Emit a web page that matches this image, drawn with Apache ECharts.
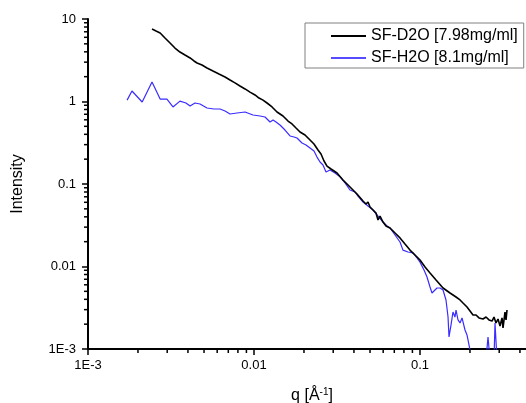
<!DOCTYPE html>
<html>
<head>
<meta charset="utf-8">
<script src="https://cdn.jsdelivr.net/npm/echarts@6/dist/echarts.min.js"></script>
<style>
html,body{margin:0;padding:0;background:#fff;}
#chart{width:526px;height:403px;}
</style>
</head>
<body>
<div id="chart"></div>
<script>
// ---- data ----
const seriesNames = ['SF-D2O [7.98mg/ml]', 'SF-H2O [8.1mg/ml]'];

const d2oQ = [0.00243,0.00257,0.00272,0.00291,0.00312,0.00334,0.00358,0.00384,0.00412,0.00435,0.00454,0.00486,0.00521,0.00566,0.00615,0.00669,0.00717,0.00768,0.00823,0.00883,0.00946,0.01014,0.01072,0.01133,0.01198,0.01284,0.01376,0.01495,0.01603,0.01694,0.01791,0.01893,0.02029,0.02175,0.02298,0.0243,0.02533,0.02641,0.02753,0.0291,0.03162,0.03437,0.03787,0.04173,0.04535,0.04728,0.04861,0.04998,0.05211,0.05432,0.05585,0.05741,0.05986,0.06239,0.06596,0.0707,0.07577,0.0812,0.08704,0.09331,0.1,0.1072,0.1149,0.1249,0.1376,0.1516,0.1648,0.1742,0.1816,0.1919,0.2001,0.2086,0.2175,0.2267,0.2396,0.2498,0.2604,0.2715,0.2791,0.287,0.2951,0.3033,0.3119,0.3162,0.3251,0.3297,0.3343];
const d2oI = [7.56,7.15,6.77,5.88,5.12,4.45,3.98,3.66,3.37,3.10,2.93,2.77,2.55,2.34,2.15,1.98,1.82,1.68,1.54,1.42,1.30,1.20,1.10,1.04,0.959,0.858,0.746,0.667,0.58,0.534,0.477,0.427,0.393,0.341,0.305,0.258,0.231,0.19,0.165,0.152,0.136,0.112,0.092,0.0756,0.0622,0.0572,0.0605,0.0526,0.0484,0.0445,0.0366,0.0409,0.0346,0.031,0.0293,0.0255,0.0222,0.0187,0.0158,0.0138,0.012,0.00986,0.00834,0.00686,0.00549,0.00477,0.00427,0.00393,0.00361,0.00323,0.00289,0.00258,0.00258,0.00238,0.00231,0.00244,0.00225,0.00218,0.00244,0.00207,0.00231,0.0019,0.00238,0.0018,0.00281,0.00225,0.00297];

const h2oQ = [0.00172,0.00184,0.00212,0.00243,0.00272,0.00299,0.00325,0.00358,0.00389,0.00412,0.00441,0.00473,0.00521,0.00574,0.00624,0.00669,0.00717,0.0079,0.00883,0.00986,0.01087,0.01165,0.01249,0.01302,0.01357,0.01434,0.01537,0.01648,0.01742,0.01816,0.01946,0.02057,0.02175,0.02298,0.02396,0.02498,0.02604,0.02715,0.02791,0.0287,0.03076,0.03297,0.03534,0.03787,0.04058,0.04231,0.04535,0.04861,0.05211,0.05585,0.05986,0.06327,0.06596,0.0707,0.07577,0.07898,0.08465,0.09074,0.09592,0.1,0.1057,0.1102,0.1149,0.1181,0.1231,0.1266,0.132,0.1376,0.1434,0.1475,0.1495,0.1537,0.158,0.1624,0.1648,0.1694,0.1742,0.1791,0.1867,0.1919,0.1946,0.2001,0.2057,0.2498,0.2568,0.2641,0.2791,0.283,0.291];
const h2oI = [1.04,1.34,0.986,1.72,1.07,1.07,0.858,1.01,0.959,0.882,0.959,0.933,0.834,0.811,0.811,0.767,0.706,0.725,0.746,0.686,0.667,0.649,0.564,0.597,0.564,0.519,0.451,0.382,0.371,0.361,0.314,0.297,0.273,0.251,0.212,0.185,0.17,0.14,0.148,0.148,0.136,0.122,0.103,0.0846,0.08,0.0715,0.0605,0.0541,0.0484,0.0409,0.0346,0.031,0.0293,0.0241,0.0198,0.0158,0.015,0.0146,0.0127,0.0113,0.00907,0.00746,0.00564,0.00477,0.00519,0.00549,0.00549,0.00519,0.00393,0.00244,0.0014,0.00195,0.00281,0.00244,0.00297,0.00225,0.00207,0.00238,0.0017,0.00148,0.00129,0.00097,0.00074,0.00074,0.0014,0.00074,0.00074,0.00207,0.00074];

const xTickLabels = {'-3':'1E-3','-2':'0.01','-1':'0.1'};
const yTickLabels = {'1':'10','0':'1','-1':'0.1','-2':'0.01','-3':'1E-3'};

const X_MIN = 0.001, X_MAX = 0.435, Y_MIN = 0.001, Y_MAX = 10;

// minor tick positions (axis decoration: 2..9 x each decade)
function minorTicks(lo, hi){
  const out = [];
  for (let e = Math.floor(Math.log10(lo)); e < Math.ceil(Math.log10(hi)); e++) {
    for (let m = 2; m <= 9; m++) {
      const v = m * Math.pow(10, e);
      if (v > lo && v < hi) out.push(v);
    }
  }
  return out;
}
const xMinor = minorTicks(X_MIN, X_MAX);
const yMinor = minorTicks(Y_MIN, Y_MAX);

function zip(a, b){ return a.map((v,i)=>[v,b[i]]); }

function fmt(map){
  return function(v){
    const l = Math.log10(v);
    const r = Math.round(l);
    if (Math.abs(l - r) > 0.01) return '';
    return map[String(r)] || '';
  };
}

const chart = echarts.init(document.getElementById('chart'), null, {renderer:'canvas'});
const font = 'Liberation Sans, Arial, sans-serif';
const BLUE = '#3a2cff';
const axisCommon = {
  type: 'log',
  logBase: 10,
  splitLine: {show:false},
  axisLine: {show:true, onZero:false, lineStyle:{color:'#000', width:2}},
  axisTick: {show:true, inside:false, length:6, lineStyle:{color:'#000', width:1.5}},
  minorTick: {show:false}
};

chart.setOption({
  animation: false,
  backgroundColor: '#fff',
  grid: {left: 88, top: 19, right: 0, bottom: 54, containLabel: false, outerBoundsMode: 'none'},
  xAxis: Object.assign({}, axisCommon, {
    min: X_MIN, max: X_MAX, interval: 1,
    axisLabel: {formatter: fmt(xTickLabels), color:'#000', fontSize:13, fontFamily: font, margin: 10, showMaxLabel:false},
    name: '{n|q [Å}{s|-1}{n|]}',
    nameLocation: 'middle',
    nameGap: 38,
    nameTextStyle: {
      padding: [0,0,0,10],
      rich: {
        n: {fontSize:16, fontFamily: font, color:'#000'},
        s: {fontSize:10, fontFamily: font, color:'#000', verticalAlign:'top', padding:[0,0,8,0]}
      }
    }
  }),
  yAxis: Object.assign({}, axisCommon, {
    min: Y_MIN, max: Y_MAX, interval: 1,
    axisLabel: {formatter: fmt(yTickLabels), color:'#000', fontSize:13, fontFamily: font, margin: 12},
    name: 'Intensity',
    nameLocation: 'middle',
    nameGap: 62,
    nameTextStyle: {fontSize:16, fontFamily: font, color:'#000'}
  }),
  legend: {
    data: [
      {name: seriesNames[0], icon: 'rect', itemStyle: {color: '#000'}},
      {name: seriesNames[1], icon: 'rect', itemStyle: {color: BLUE, opacity: 0.85}}
    ],
    orient: 'vertical',
    left: 305, top: 23,
    padding: [4, 6, 1, 26],
    itemGap: 4,
    itemWidth: 35,
    itemHeight: 2,
    backgroundColor: '#fff',
    borderColor: '#808080',
    borderWidth: 1,
    borderRadius: 0,
    textStyle: {fontSize:16, fontFamily: font, color:'#000', lineHeight:18}
  },
  series: [
    {
      name: seriesNames[0], type:'line', data: zip(d2oQ, d2oI),
      symbol:'none', showSymbol:false, clip:true, z:3,
      lineStyle:{color:'#000', width:1.6}, itemStyle:{color:'#000'}
    },
    {
      name: seriesNames[1], type:'line', data: zip(h2oQ, h2oI),
      symbol:'none', showSymbol:false, clip:true, z:2,
      lineStyle:{color:BLUE, width:1.2}, itemStyle:{color:BLUE}
    },
    {
      type:'custom', silent:true, clip:false, z:5,
      data: xMinor.map(v=>[v, Y_MIN]),
      renderItem: function(params, api){
        const p = api.coord([api.value(0), api.value(1)]);
        return {type:'line', shape:{x1:p[0], y1:p[1], x2:p[0], y2:p[1]+4}, style:{stroke:'#000', lineWidth:1.5}};
      }
    },
    {
      type:'custom', silent:true, clip:false, z:5,
      data: yMinor.map(v=>[X_MIN, v]),
      renderItem: function(params, api){
        const p = api.coord([api.value(0), api.value(1)]);
        return {type:'line', shape:{x1:p[0]-4, y1:p[1], x2:p[0], y2:p[1]}, style:{stroke:'#000', lineWidth:1.5}};
      }
    }
  ]
});
</script>
</body>
</html>
